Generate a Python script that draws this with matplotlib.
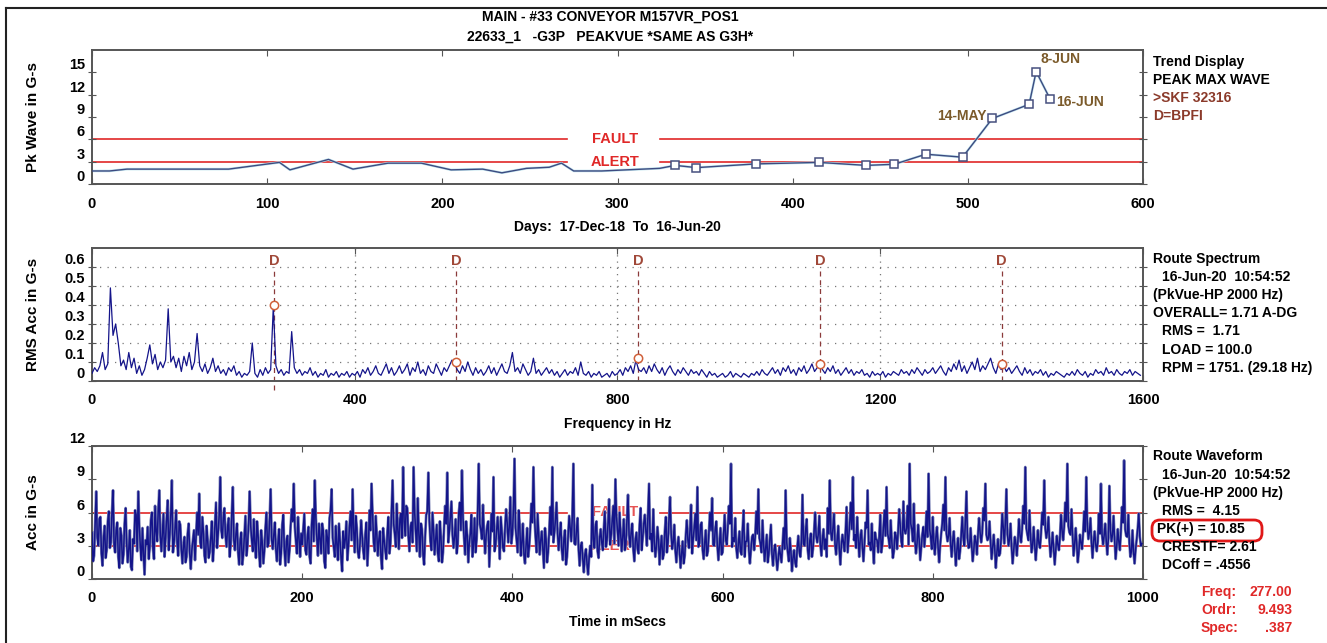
import matplotlib
matplotlib.use('Agg')
import matplotlib.pyplot as plt
from matplotlib.patches import FancyBboxPatch
from matplotlib.transforms import IdentityTransform
import numpy as np

# ---- trend panel data (days since 17-Dec-18, peak wave in G-s)
trend_days = [0, 10, 20, 78, 107, 113, 135, 149, 169, 188, 205, 223, 234, 248, 261, 268,
              275, 291, 324, 333, 345, 379, 415, 442, 458, 476, 497, 514, 535, 539, 547]
trend_pk = [1.75, 1.75, 2.0, 2.0, 2.9, 1.9, 3.3, 2.0, 2.8, 2.8, 1.9, 2.0, 1.5, 2.1, 2.25, 2.8,
            1.75, 1.75, 2.1, 2.5, 2.2, 2.7, 2.9, 2.5, 2.65, 4.0, 3.6, 8.8, 10.7, 15.1, 11.4]
first_marker = 19
trend_fault = 6
trend_alert = 3

# ---- spectrum data (4 Hz steps, values in 0.01 G-s)
spec_0_400 = [4, 7, 5, 8, 15, 6, 9, 49, 24, 30, 20, 8, 11, 6, 15, 7, 12, 4, 8, 3,
              6, 12, 19, 9, 14, 6, 10, 7, 11, 38, 10, 13, 7, 12, 5, 13, 8, 15, 6, 10,
              25, 8, 5, 9, 4, 7, 12, 5, 8, 4, 6, 3, 7, 5, 8, 3, 5, 2, 4, 3,
              5, 20, 4, 2, 6, 3, 7, 4, 6, 39, 8, 4, 6, 3, 5, 4, 26, 7, 4, 6,
              3, 5, 4, 7, 3, 5, 2, 4, 3, 6, 2, 4, 3, 5, 2, 4, 3, 5, 2, 4]
spec_400_800 = [3, 5, 2, 6, 4, 7, 3, 5, 8, 4, 3, 6, 9, 4, 7, 3, 5, 8, 4, 6,
                9, 3, 7, 5, 10, 4, 6, 3, 8, 5, 4, 9, 6, 3, 7, 5, 8, 11, 9, 6,
                4, 8, 5, 10, 6, 3, 7, 4, 6, 3, 5, 8, 4, 7, 3, 6, 9, 5, 4, 8,
                15, 5, 7, 4, 9, 6, 3, 5, 12, 4, 6, 3, 5, 7, 4, 6, 3, 5, 2, 4,
                6, 3, 5, 4, 7, 3, 10, 4, 3, 5, 2, 4, 3, 5, 2, 3, 4, 2, 5, 3]
spec_800_1200 = [4, 6, 3, 7, 5, 8, 4, 11, 6, 5, 7, 4, 8, 5, 9, 6, 4, 7, 3, 6,
                 8, 5, 3, 6, 4, 7, 5, 3, 6, 4, 5, 3, 6, 4, 2, 5, 3, 4, 2, 3,
                 4, 2, 3, 5, 2, 4, 3, 2, 4, 3, 2, 4, 3, 5, 3, 6, 4, 3, 5, 7,
                 4, 6, 3, 7, 5, 8, 4, 6, 3, 7, 5, 8, 4, 6, 9, 5, 7, 9, 6, 4,
                 7, 5, 8, 4, 6, 3, 5, 7, 4, 6, 3, 5, 4, 6, 3, 4, 2, 5, 3, 4]
spec_1200_1600 = [3, 5, 2, 4, 3, 5, 4, 3, 6, 4, 5, 3, 6, 4, 7, 5, 3, 6, 4, 5,
                  7, 4, 6, 8, 5, 3, 7, 5, 9, 6, 11, 5, 8, 4, 7, 10, 6, 12, 5, 8,
                  6, 9, 12, 7, 4, 9, 6, 8, 5, 7, 4, 6, 8, 5, 3, 7, 4, 6, 3, 5,
                  4, 6, 3, 5, 2, 4, 3, 5, 4, 3, 2, 4, 3, 5, 3, 6, 4, 3, 5, 2,
                  4, 3, 6, 4, 5, 3, 7, 4, 5, 3, 6, 4, 3, 5, 4, 6, 3, 5, 4, 3]
bpfi_harmonics = [277, 554, 831, 1108, 1385]
bpfi_peaks = [0.40, 0.10, 0.12, 0.09, 0.09]

# ---- waveform data, G-s: samples at even ms ...
wave_0_200 = [4.2, 2.1, 7.9, 3.0, 5.6, 1.2, 4.8, 2.6, 6.1, 3.3, 8.0, 2.4, 5.1, 1.0, 3.9, 2.2, 6.4, 1.5, 4.4, 0.8,
              3.2, 5.8, 7.9, 2.9, 4.6, 0.4, 3.1, 1.8, 5.3, 2.7, 6.6, 3.4, 8.0, 2.5, 5.9, 3.6, 7.1, 4.0, 8.9, 3.2,
              6.2, 2.1, 4.9, 1.4, 3.8, 2.0, 5.0, 0.9, 3.5, 1.7, 6.0, 7.7, 2.8, 4.3, 1.5, 3.6, 2.4, 5.2, 3.0, 6.9,
              4.1, 9.2, 3.7, 6.4, 2.9, 5.5, 3.1, 8.3, 2.6, 5.0, 1.3, 4.2, 2.2, 5.7, 3.0, 7.9, 3.5, 5.4, 1.9, 4.0,
              1.1, 3.3, 2.5, 6.0, 3.2, 8.1, 2.7, 5.1, 1.6, 4.5, 2.3, 5.8, 1.2, 3.9, 2.6, 6.3, 8.6, 3.4, 5.6, 2.0]
wave_200_400 = [3.1, 5.9, 2.2, 4.7, 1.4, 6.3, 8.9, 3.6, 5.0, 2.3, 4.4, 1.0, 3.7, 5.5, 8.1, 2.9, 4.8, 1.7, 3.4, 0.7,
                2.8, 5.2, 3.0, 6.1, 8.1, 2.4, 4.6, 1.9, 5.3, 2.6, 4.0, 1.2, 6.2, 8.6, 3.3, 5.7, 2.1, 4.3, 0.9, 3.5,
                1.8, 5.6, 3.2, 8.9, 4.1, 6.8, 2.7, 5.9, 10.1, 3.9, 6.4, 2.5, 5.1, 10.1, 4.2, 7.3, 2.0, 4.5, 1.3, 5.8,
                9.6, 3.4, 6.0, 2.2, 4.9, 1.6, 3.8, 2.4, 6.6, 9.6, 4.3, 7.0, 2.8, 5.4, 3.1, 6.9, 9.8, 3.7, 5.2, 1.5,
                4.1, 2.0, 5.5, 3.6, 10.4, 4.4, 6.7, 2.3, 4.8, 1.1, 5.9, 9.2, 3.0, 5.6, 1.8, 4.2, 2.5, 6.3, 3.3, 7.4]
wave_400_600 = [4.0, 10.85, 3.5, 6.2, 2.1, 5.0, 1.4, 4.6, 2.9, 6.8, 10.1, 3.8, 5.9, 2.2, 4.3, 1.0, 3.6, 2.4, 6.5, 10.1,
                4.2, 6.9, 2.6, 5.1, 1.7, 4.4, 2.0, 5.7, 3.4, 10.4, 3.1, 5.5, 1.2, 3.3, 0.6, 2.7, 0.4, 3.0, 8.5, 2.8,
                5.2, 1.9, 4.5, 2.6, 6.1, 3.5, 7.2, 4.0, 6.6, 9.0, 4.3, 6.0, 2.5, 5.4, 3.1, 7.6, 2.9, 5.0, 1.6, 4.2,
                2.3, 6.4, 3.7, 5.8, 3.0, 8.6, 4.1, 6.3, 2.0, 4.7, 1.3, 3.9, 2.2, 5.6, 3.3, 7.4, 2.7, 4.9, 1.5, 3.8,
                1.0, 3.4, 2.1, 5.3, 2.8, 6.7, 3.6, 5.9, 8.3, 3.2, 5.1, 1.8, 4.4, 2.5, 6.0, 7.3, 3.0, 5.2, 1.7, 4.6]
wave_600_800 = [2.4, 5.8, 3.1, 6.6, 10.4, 3.7, 5.5, 1.9, 4.3, 2.2, 6.2, 3.4, 5.0, 1.4, 3.8, 2.6, 6.1, 8.1, 3.2, 5.3,
                1.6, 4.0, 2.3, 4.9, 1.2, 3.1, 0.8, 2.9, 1.5, 4.6, 8.0, 2.4, 3.7, 0.7, 2.6, 1.1, 3.9, 2.0, 7.6, 3.0,
                5.4, 1.8, 4.1, 2.7, 6.0, 3.3, 5.7, 2.1, 4.5, 3.6, 6.4, 8.9, 3.5, 5.9, 2.2, 4.8, 1.3, 4.0, 2.5, 6.5,
                3.8, 6.9, 9.2, 4.0, 5.6, 2.0, 4.4, 1.6, 5.1, 8.0, 3.3, 5.0, 1.4, 3.6, 2.4, 5.8, 3.1, 6.2, 8.3, 3.6,
                5.3, 1.9, 4.2, 2.7, 6.3, 3.4, 7.0, 4.1, 6.6, 10.4, 4.5, 6.8, 2.3, 4.9, 1.7, 4.0, 2.9, 6.1, 9.5, 3.8]
wave_800_1000 = [5.6, 2.2, 4.7, 1.5, 4.1, 6.7, 9.2, 3.4, 5.5, 2.0, 4.3, 1.2, 3.7, 2.5, 5.6, 3.0, 7.9, 2.8, 4.6, 1.6,
                 3.9, 2.2, 5.5, 3.3, 6.4, 8.6, 3.5, 5.2, 1.8, 4.0, 1.0, 3.6, 2.3, 5.9, 3.2, 8.1, 3.0, 5.0, 1.4, 3.8,
                 2.1, 5.4, 3.3, 6.6, 10.1, 4.0, 6.2, 2.4, 4.7, 1.7, 4.4, 2.8, 6.0, 8.9, 3.7, 5.6, 2.0, 4.2, 1.3, 3.9,
                 2.6, 5.8, 3.5, 6.9, 10.4, 4.2, 6.3, 2.1, 4.6, 1.5, 4.0, 2.7, 6.1, 9.2, 3.6, 5.5, 1.9, 4.3, 2.5, 5.9,
                 8.6, 3.1, 5.0, 2.2, 8.4, 3.4, 5.7, 1.8, 4.5, 2.6, 6.5, 10.7, 3.9, 5.8, 2.0, 4.4, 1.4, 3.6, 5.9, 3.0]
# ... and samples at odd ms
wave_odd_0_200 = [1.6, 4.9, 3.8, 5.4, 2.3, 3.7, 1.9, 5.2, 2.8, 6.0, 3.1, 4.4, 2.0, 4.6, 1.4, 5.0, 3.2, 2.7, 1.1, 3.6,
                  6.2, 2.5, 4.8, 1.7, 2.2, 3.5, 4.7, 2.9, 6.0, 1.8, 4.3, 6.1, 3.9, 4.2, 2.0, 5.5, 2.6, 5.9, 2.4, 4.5,
                  3.3, 5.2, 2.7, 3.0, 1.5, 4.1, 2.3, 2.6, 4.4, 3.8, 4.0, 3.3, 5.6, 2.1, 4.8, 1.9, 3.7, 1.6, 5.0, 2.8,
                  5.7, 4.4, 5.5, 3.9, 4.7, 2.0, 5.9, 3.5, 4.1, 2.4, 3.5, 1.3, 3.9, 2.1, 5.0, 4.8, 2.5, 3.1, 5.2, 2.2,
                  4.4, 1.4, 4.6, 2.9, 5.4, 3.5, 4.0, 2.6, 3.3, 1.3, 4.9, 2.7, 3.4, 1.5, 4.8, 5.2, 4.7, 2.3, 3.6, 4.1]
wave_odd_200_400 = [4.5, 2.6, 3.8, 2.0, 4.9, 3.4, 5.5, 2.1, 3.6, 5.0, 1.6, 4.4, 2.3, 6.2, 3.7, 2.0, 3.1, 5.0, 1.9, 4.3,
                    3.6, 1.7, 4.8, 3.5, 4.3, 5.7, 2.4, 3.2, 4.0, 1.8, 5.1, 3.0, 4.4, 5.8, 2.5, 4.0, 3.6, 1.9, 4.6, 2.6,
                    4.2, 2.3, 6.1, 5.0, 2.9, 4.4, 5.4, 3.7, 5.2, 6.6, 3.9, 4.6, 3.3, 6.0, 2.5, 4.1, 5.0, 2.2, 3.8, 6.1,
                    5.3, 2.6, 4.4, 3.5, 2.3, 5.2, 1.5, 4.7, 5.0, 3.3, 5.6, 4.0, 3.9, 2.3, 6.0, 4.4, 5.5, 2.2, 4.0, 3.3,
                    5.8, 3.1, 2.4, 6.2, 5.0, 3.6, 4.1, 3.9, 5.2, 3.6, 4.3, 2.5, 4.4, 3.9, 5.6, 2.8, 4.6, 5.1, 4.7, 3.2]
wave_odd_400_600 = [6.3, 4.6, 2.4, 4.8, 3.3, 2.2, 3.0, 2.0, 4.5, 5.1, 5.6, 2.4, 4.0, 3.5, 2.7, 4.6, 1.5, 4.3, 4.0, 3.3,
                    5.4, 4.1, 4.0, 2.6, 3.6, 1.3, 3.9, 4.6, 5.6, 3.2, 4.4, 2.6, 3.0, 1.8, 2.2, 1.4, 1.9, 2.0, 3.6, 4.7,
                    2.5, 3.7, 3.3, 4.6, 2.9, 5.0, 3.1, 5.3, 3.2, 5.7, 3.0, 4.1, 3.8, 2.6, 5.3, 4.0, 4.2, 2.7, 3.5, 2.8,
                    4.9, 2.6, 5.0, 4.3, 5.9, 3.6, 2.5, 3.4, 2.9, 3.6, 2.9, 1.8, 4.3, 2.4, 5.3, 4.2, 3.3, 2.6, 2.9, 2.5,
                    2.3, 1.4, 4.0, 3.5, 4.4, 2.3, 4.6, 3.5, 2.9, 4.8, 2.6, 3.3, 2.1, 4.2, 4.4, 3.1, 4.5, 3.0, 3.1, 2.2]
wave_odd_600_800 = [4.2, 3.5, 4.7, 5.0, 2.9, 3.4, 2.8, 3.2, 2.5, 4.5, 2.0, 3.4, 2.6, 2.7, 4.0, 3.8, 4.1, 3.7, 2.4, 3.1,
                    2.8, 1.5, 3.6, 2.2, 2.6, 1.9, 1.8, 2.2, 3.1, 2.7, 3.3, 1.6, 2.5, 1.9, 1.5, 2.8, 2.5, 3.4, 3.2, 4.4,
                    2.6, 3.5, 2.0, 4.2, 3.9, 4.0, 3.1, 3.6, 2.7, 2.0, 4.1, 4.2, 4.6, 3.1, 3.5, 2.8, 3.0, 3.3, 4.3, 2.4,
                    5.1, 4.5, 3.5, 2.8, 3.6, 3.7, 2.9, 3.2, 4.6, 3.1, 2.6, 2.9, 4.2, 3.5, 3.8, 2.4, 4.6, 3.9, 4.1, 2.8,
                    3.4, 2.5, 3.9, 4.3, 4.8, 2.9, 4.4, 4.6, 3.1, 5.0, 3.4, 3.5, 3.2, 3.6, 2.8, 4.7, 4.1, 3.8, 4.5, 2.7]
wave_odd_800_1000 = [3.3, 3.8, 2.9, 3.0, 5.0, 4.4, 4.1, 3.9, 3.1, 3.5, 2.6, 2.7, 1.8, 3.9, 3.8, 5.2, 3.7, 2.9, 3.0, 2.6,
                     3.4, 4.0, 4.2, 4.1, 5.3, 4.0, 3.7, 3.3, 2.9, 2.6, 2.4, 2.1, 3.6, 4.7, 5.0, 4.1, 3.6, 2.8, 2.6, 3.2,
                     3.5, 3.9, 4.5, 5.0, 4.6, 3.5, 3.9, 3.1, 3.0, 3.0, 3.2, 4.1, 4.9, 4.6, 4.3, 3.4, 3.0, 2.7, 2.6, 3.1,
                     3.8, 4.4, 4.7, 5.2, 4.8, 4.0, 3.9, 3.2, 3.1, 2.5, 3.3, 4.1, 4.3, 4.9, 4.2, 3.3, 3.4, 3.1, 3.4, 4.1,
                     4.0, 3.9, 3.5, 3.6, 4.4, 4.0, 3.5, 3.0, 3.4, 4.3, 5.1, 4.5, 3.8, 3.3, 2.5, 2.4, 2.7, 4.6, 3.8, 3.2]
wave_fault = 6
wave_alert = 3

W, H = 1327, 643
NAVY = '#14148a'
RED = '#e02828'
BROWN = '#7b5a2a'
SPINE = '#555555'

plt.rcParams['font.family'] = ['Liberation Sans', 'DejaVu Sans']
plt.rcParams['font.weight'] = 'bold'
plt.rcParams['axes.labelweight'] = 'bold'
plt.rcParams['font.size'] = 10

fig = plt.figure(figsize=(W / 100, H / 100), dpi=100)


def add_axes_px(left, top, right, bottom):
    return fig.add_axes([left / W, 1 - bottom / H, (right - left) / W, (bottom - top) / H])


def ftext(px, py, s, **kw):
    kw.setdefault('va', 'center')
    kw.setdefault('fontsize', 10)
    kw.setdefault('fontweight', 'bold')
    fig.text(px / W, 1 - py / H, s, **kw)


def style_axes(ax, xlim, xticks, ylim, yticks, ylab, xlab):
    ax.set_xlim(*xlim)
    ax.set_ylim(*ylim)
    ax.set_xticks(xticks)
    ax.set_yticks(yticks)
    for sp in ax.spines.values():
        sp.set_color(SPINE)
        sp.set_linewidth(1.4)
    ax.tick_params(axis='x', direction='in', top=True, length=4, color=SPINE,
                   labelsize=10.5, pad=9)
    ax.tick_params(axis='y', direction='inout', right=True, length=6, color=SPINE,
                   labelsize=10.5, pad=2)
    for lbl in ax.get_yticklabels():
        lbl.set_verticalalignment('bottom')
    ax.set_ylabel(ylab, fontsize=11, fontweight='bold', va='center')
    ax.yaxis.set_label_coords(-0.056, 0.5)
    ax.set_xlabel(xlab, fontsize=10, fontweight='bold', va='center')


def limit_lines(ax, fault, alert, behind=False):
    gap0, gap1 = 0.452, 0.540
    for y in (fault, alert):
        ax.axhline(y, 0, gap0, color=RED, lw=1.2, zorder=1)
        ax.axhline(y, gap1, 1, color=RED, lw=1.2, zorder=1)
    mid = (gap0 + gap1) / 2 + 0.002
    a = 0.8 if behind else 1.0
    for y, s in ((fault, 'FAULT'), (alert, 'ALERT')):
        ax.text(mid, y, s, transform=ax.get_yaxis_transform(), color=RED, alpha=a,
                ha='center', va='center', fontsize=10.5, fontweight='bold', zorder=1)


# ---------------- top: trend
ax1 = add_axes_px(92, 50, 1143, 184)
limit_lines(ax1, trend_fault, trend_alert)
ax1.plot(trend_days, trend_pk, color='#bfe4ee', lw=1.8, zorder=2)
ax1.plot(trend_days, trend_pk, color='#3d4a80', lw=1.0, zorder=3)
ax1.plot(trend_days[first_marker:], trend_pk[first_marker:], ls='none', marker='s', ms=6,
         mfc='white', mec='#46507e', mew=1.1, zorder=4)
ax1.annotate('8-JUN', (trend_days[-2], trend_pk[-2]), xytext=(3, 4), textcoords='offset points',
             color=BROWN, fontsize=10, fontweight='bold', ha='left', va='bottom')
ax1.annotate('14-MAY', (trend_days[-4], trend_pk[-4]), xytext=(-4, 2), textcoords='offset points',
             color=BROWN, fontsize=10, fontweight='bold', ha='right', va='center')
ax1.annotate('16-JUN', (trend_days[-1], trend_pk[-1]), xytext=(4, -2), textcoords='offset points',
             color=BROWN, fontsize=10, fontweight='bold', ha='left', va='center')
style_axes(ax1, (0, 600), range(0, 601, 100), (0, 18), range(0, 16, 3),
           'Pk Wave in G-s', 'Days:  17-Dec-18  To  16-Jun-20')
ax1.xaxis.set_label_coords(0.5, -43 / 134)

# ---------------- middle: spectrum
ax2 = add_axes_px(92, 248, 1143, 381)
spec = np.array(spec_0_400 + spec_400_800 + spec_800_1200 + spec_1200_1600) / 100.0
freq = np.arange(len(spec)) * 4
for y in (0.1, 0.2, 0.3, 0.4, 0.5, 0.6):
    ax2.axhline(y, color='#777777', lw=0.9, ls=(0, (1, 5)), zorder=0)
for x in (400, 800, 1200):
    ax2.axvline(x, color='#777777', lw=0.9, ls=(0, (1, 4)), zorder=0)
ax2.plot(freq, spec, color=NAVY, lw=0.9, zorder=3)
for i, (hf, hp) in enumerate(zip(bpfi_harmonics, bpfi_peaks)):
    y0 = -0.045 if i == 0 else 0
    ax2.plot([hf, hf], [y0, 0.6], color='#8b3a3a', lw=0.9, ls=(0, (4, 3)), zorder=2, clip_on=False)
    ax2.text(hf, 0.63, 'D', color='#a04838', ha='center', va='center', fontsize=10.5,
             fontweight='bold', zorder=4)
    ax2.plot(hf, hp, ls='none', marker='o', ms=6, mfc='white', mec='#d0603a', mew=1.1, zorder=4)
style_axes(ax2, (0, 1600), range(0, 1601, 400), (0, 0.7), [0, 0.1, 0.2, 0.3, 0.4, 0.5, 0.6],
           'RMS Acc in G-s', 'Frequency in Hz')
ax2.set_yticklabels(['0', '0.1', '0.2', '0.3', '0.4', '0.5', '0.6'])
for lbl in ax2.get_yticklabels():
    lbl.set_verticalalignment('bottom')
ax2.xaxis.set_label_coords(0.5, -43 / 133)

# ---------------- bottom: waveform
ax3 = add_axes_px(92, 446, 1143, 579)
wave_even = wave_0_200 + wave_200_400 + wave_400_600 + wave_600_800 + wave_800_1000
wave_odd = wave_odd_0_200 + wave_odd_200_400 + wave_odd_400_600 + wave_odd_600_800 + wave_odd_800_1000
wave = np.empty(len(wave_even) + len(wave_odd))
wave[0::2] = wave_even
wave[1::2] = wave_odd
t_ms = np.arange(len(wave))
limit_lines(ax3, wave_fault, wave_alert, behind=True)
ax3.plot(t_ms, wave, color='#7880b4', lw=2.0, zorder=2)
ax3.plot(t_ms, wave, color=NAVY, lw=1.1, zorder=3)
style_axes(ax3, (0, 1000), range(0, 1001, 200), (0, 12), range(0, 13, 3),
           'Acc in G-s', 'Time in mSecs')
ax3.xaxis.set_label_coords(0.5, -43 / 133)

# ---------------- titles and side texts
ftext(610, 17, 'MAIN - #33 CONVEYOR M157VR_POS1', ha='center')
ftext(610, 37, '22633_1   -G3P   PEAKVUE *SAME AS G3H*', ha='center')

side = [
    (1153, 62, 'Trend Display', 'black'),
    (1153, 80, 'PEAK MAX WAVE', 'black'),
    (1153, 98, '>SKF 32316', '#8b3a2a'),
    (1153, 116, 'D=BPFI', '#8b3a2a'),
    (1153, 259, 'Route Spectrum', 'black'),
    (1162, 277, '16-Jun-20  10:54:52', 'black'),
    (1153, 295, '(PkVue-HP 2000 Hz)', 'black'),
    (1153, 313, 'OVERALL= 1.71 A-DG', 'black'),
    (1162, 331, 'RMS =  1.71', 'black'),
    (1162, 350, 'LOAD = 100.0', 'black'),
    (1162, 368, 'RPM = 1751. (29.18 Hz)', 'black'),
    (1153, 456, 'Route Waveform', 'black'),
    (1162, 475, '16-Jun-20  10:54:52', 'black'),
    (1153, 493, '(PkVue-HP 2000 Hz)', 'black'),
    (1162, 511, 'RMS =  4.15', 'black'),
    (1157, 529, 'PK(+) = 10.85', 'black'),
    (1162, 547, 'CRESTF= 2.61', 'black'),
    (1162, 565, 'DCoff = .4556', 'black'),
]
for px, py, s, c in side:
    ftext(px, py, s, color=c)

for py, lab, val in ((592, 'Freq:', '277.00'), (610, 'Ordr:', '9.493'), (628, 'Spec:', '.387')):
    ftext(1201, py, lab, color=RED)
    ftext(1292, py, val, color=RED, ha='right')

# hand drawn highlight around PK(+)
fig.patches.append(FancyBboxPatch((1152, H - 541), 110, 21, boxstyle='round,pad=0,rounding_size=8',
                                  transform=IdentityTransform(), fill=False, ec='#e01818', lw=2.0))

# outer frame
fig.add_artist(plt.Line2D([6 / W, 6 / W], [0, 1 - 8 / H], transform=fig.transFigure, color='#222222', lw=1.5))
fig.add_artist(plt.Line2D([6 / W, 1], [1 - 8 / H, 1 - 8 / H], transform=fig.transFigure, color='#222222', lw=1.5))

fig.savefig('out.png', dpi=100)
